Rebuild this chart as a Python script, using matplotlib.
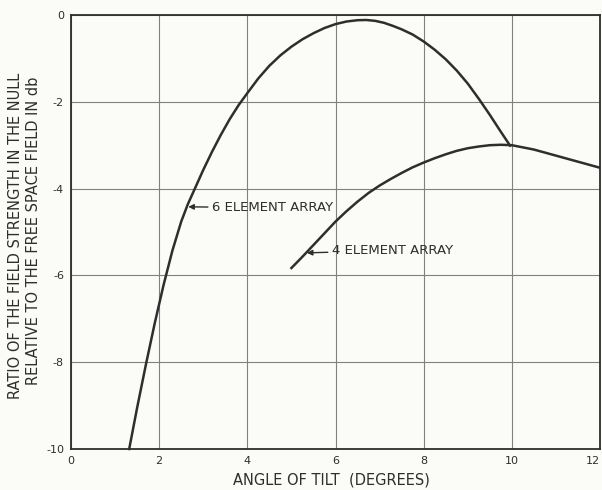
import matplotlib
matplotlib.use("Agg")
import matplotlib.pyplot as plt

# 6 element array curve
x6 = [1.32, 1.5, 1.7, 1.9, 2.1, 2.3, 2.5, 2.65, 2.81, 3.0, 3.2, 3.4, 3.6, 3.8, 4.0,
      4.25, 4.5, 4.75, 5.0, 5.25, 5.5, 5.75, 6.0, 6.25, 6.5, 6.7, 6.9, 7.1, 7.3,
      7.5, 7.75, 8.0, 8.25, 8.5, 8.75, 9.0, 9.25, 9.5, 9.75, 9.96]
y6 = [-10.0, -9.05, -8.05, -7.1, -6.22, -5.43, -4.76, -4.36, -4.0, -3.57, -3.15,
      -2.76, -2.4, -2.08, -1.8, -1.46, -1.17, -0.93, -0.73, -0.56, -0.42, -0.3,
      -0.21, -0.15, -0.12, -0.115, -0.135, -0.18, -0.25, -0.33, -0.45, -0.61,
      -0.8, -1.02, -1.28, -1.58, -1.93, -2.3, -2.69, -3.01]

# 4 element array curve
x4 = [5.0, 5.25, 5.5, 5.75, 6.0, 6.25, 6.5, 6.75, 7.0, 7.25, 7.5, 7.75, 8.0, 8.25,
      8.5, 8.75, 9.0, 9.25, 9.5, 9.75, 10.0, 10.25, 10.5, 10.75, 11.0, 11.25,
      11.5, 11.75, 12.0]
y4 = [-5.83, -5.57, -5.3, -5.03, -4.76, -4.52, -4.3, -4.1, -3.93, -3.78, -3.64,
      -3.51, -3.4, -3.3, -3.21, -3.13, -3.07, -3.03, -3.0, -2.99, -3.0, -3.05,
      -3.1, -3.17, -3.24, -3.31, -3.38, -3.45, -3.52]

xticks = [0, 2, 4, 6, 8, 10, 12]
yticks = [0, -2, -4, -6, -8, -10]
xlabels = ["0", "2", "4", "6", "8", "10", "12"]
ylabels = ["0", "-2", "-4", "-6", "-8", "-10"]

ink = "#2e2e2e"
bg = "#fbfbf8"

fig = plt.figure(figsize=(6.02, 4.90), dpi=100, facecolor=bg)
ax = fig.add_axes([71/602, 1-449/490, (600-71)/602, (449-15)/490], facecolor=bg)

ax.set_xlim(0, 12)
ax.set_ylim(-10, 0)
ax.set_xticks(xticks)
ax.set_xticklabels(xlabels)
ax.set_yticks(yticks)
ax.set_yticklabels(ylabels)
ax.tick_params(length=0, labelsize=8, colors=ink, pad=5)
ax.get_xticklabels()[-1].set_horizontalalignment("right")
ax.grid(True, color="#808080", linewidth=0.8)
for s in ax.spines.values():
    s.set_color(ink)
    s.set_linewidth(1.3)

ax.plot(x6, y6, color=ink, linewidth=1.8, clip_on=False)
ax.plot(x4, y4, color=ink, linewidth=1.8)

ax.annotate("6 ELEMENT ARRAY", xy=(2.66, -4.42), xytext=(3.2, -4.44),
            fontsize=9.5, color=ink, va="center", ha="left",
            arrowprops=dict(arrowstyle="-|>", color=ink, lw=1.0,
                            shrinkA=1, shrinkB=0, mutation_scale=8))
ax.annotate("4 ELEMENT ARRAY", xy=(5.35, -5.48), xytext=(5.92, -5.43),
            fontsize=9.5, color=ink, va="center", ha="left",
            arrowprops=dict(arrowstyle="-|>", color=ink, lw=1.0,
                            shrinkA=1, shrinkB=0, mutation_scale=8))

fig.text(331/602, 1-480/490, "ANGLE OF TILT  (DEGREES)", fontsize=10.5, color=ink,
         ha="center", va="center")
fig.text(16/602, 1-236/490, "RATIO OF THE FIELD STRENGTH IN THE NULL", fontsize=10.5,
         color=ink, rotation=90, ha="center", va="center")
fig.text(34/602, 1-231/490, "RELATIVE TO THE FREE SPACE FIELD IN db", fontsize=10.5,
         color=ink, rotation=90, ha="center", va="center")

fig.savefig("out.png", dpi=100, facecolor=bg)
